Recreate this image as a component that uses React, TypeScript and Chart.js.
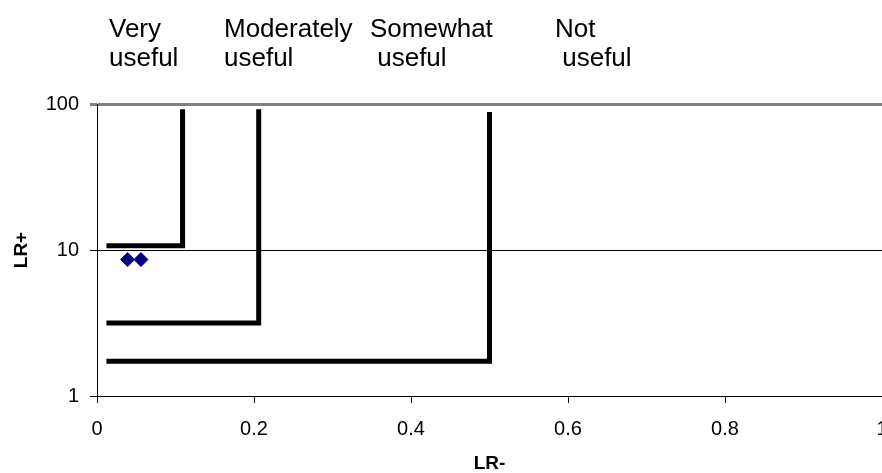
import React, { useEffect, useRef } from "react";
import { Chart, registerables } from "chart.js";

Chart.register(...registerables);

// Usefulness bands of a diagnostic test, LR- (x) against LR+ (y)
const bandLabels = ["Very\nuseful", "Moderately\nuseful", "Somewhat\n useful", "Not\n useful"];
const bandLabelLeft = [109, 224, 370, 555];

// Each band boundary: a horizontal run at its LR+ floor, then a vertical rise at its LR- ceiling
const boundaryNames = ["Very useful", "Moderately useful", "Somewhat useful"];
const boundaryStartLrMinus = [0.012, 0.012, 0.012];
const boundaryLrMinus = [0.109, 0.206, 0.5];
const boundaryLrPlus = [10.7, 3.16, 1.73];
const boundaryTopLrPlus = [92, 92, 88];

// Observed test results
const resultLrMinus = [0.039, 0.056];
const resultLrPlus = [8.6, 8.6];

const yTickValues = [1, 10, 100];

const CANVAS_W = 890;
const CANVAS_H = 473;

export default function App() {
  const canvasRef = useRef<HTMLCanvasElement | null>(null);

  useEffect(() => {
    const canvas = canvasRef.current;
    if (!canvas) return;

    const boundaryDatasets = boundaryNames.map((name, i) => ({
      label: name,
      data: [
        { x: boundaryStartLrMinus[i], y: boundaryLrPlus[i] },
        { x: boundaryLrMinus[i], y: boundaryLrPlus[i] },
        { x: boundaryLrMinus[i], y: boundaryTopLrPlus[i] },
      ],
      showLine: true,
      borderColor: "#000000",
      backgroundColor: "#000000",
      borderWidth: 5,
      borderJoinStyle: "miter" as const,
      borderCapStyle: "butt" as const,
      pointRadius: 0,
      pointHoverRadius: 0,
    }));

    const resultDataset = {
      label: "Results",
      data: resultLrMinus.map((x, i) => ({ x, y: resultLrPlus[i] })),
      showLine: false,
      pointStyle: "rectRot" as const,
      pointRadius: 7,
      pointHoverRadius: 7,
      backgroundColor: "#000080",
      borderColor: "#000080",
      borderWidth: 1,
    };

    const font = "'Liberation Sans', Arial, sans-serif";

    const chart = new Chart(canvas, {
      type: "scatter",
      data: { datasets: [...boundaryDatasets, resultDataset] },
      options: {
        animation: false,
        responsive: false,
        devicePixelRatio: 1,
        layout: { padding: { top: 104, right: 6, bottom: 0, left: 0 } },
        plugins: {
          legend: { display: false },
          tooltip: { enabled: false },
        },
        scales: {
          x: {
            type: "linear",
            min: 0,
            max: 1,
            afterFit: (scale: any) => {
              scale.height = 77;
              scale.paddingLeft = 0;
              scale.paddingRight = 0;
            },
            ticks: {
              stepSize: 0.2,
              color: "#000",
              padding: 14,
              font: { family: font, size: 20 },
              maxRotation: 0,
              callback: (v: any) => String(Math.round(Number(v) * 10) / 10),
            },
            grid: {
              drawOnChartArea: false,
              drawTicks: true,
              tickLength: 7,
              color: "#000",
            },
            border: { display: true, color: "#000", width: 1 },
            title: {
              display: true,
              text: "LR-",
              color: "#000",
              font: { family: font, size: 19, weight: "bold", lineHeight: 1 },
              padding: { top: 0, bottom: 0 },
            },
          },
          y: {
            type: "logarithmic",
            min: 1,
            max: 100,
            afterFit: (scale: any) => {
              scale.width = 97;
            },
            afterBuildTicks: (scale: any) => {
              scale.ticks = yTickValues.map((v) => ({ value: v }));
            },
            ticks: {
              color: "#000",
              padding: 11,
              font: { family: font, size: 20 },
              callback: (v: any) => String(v),
            },
            grid: {
              drawTicks: true,
              tickLength: 7,
              color: (ctx: any) => (ctx.tick && ctx.tick.value === 100 ? "#808080" : "#000"),
              lineWidth: (ctx: any) => (ctx.tick && ctx.tick.value === 100 ? 3 : 1),
            },
            border: { display: true, color: "#000", width: 1 },
            title: {
              display: true,
              text: "LR+",
              color: "#000",
              font: { family: font, size: 19, weight: "bold", lineHeight: 1.2 },
              padding: { top: 10, bottom: 0 },
            },
          },
        },
      },
    });

    return () => chart.destroy();
  }, []);

  return (
    <div
      style={{
        position: "fixed",
        left: 0,
        top: 0,
        width: 882,
        height: 473,
        overflow: "hidden",
        background: "#ffffff",
      }}
    >
      <div style={{ position: "absolute", left: 0, top: 0, width: CANVAS_W, height: CANVAS_H }}>
        <canvas ref={canvasRef} width={CANVAS_W} height={CANVAS_H} />
      </div>
      {bandLabels.map((text, i) => (
        <div
          key={text}
          style={{
            position: "absolute",
            left: bandLabelLeft[i],
            top: 14,
            whiteSpace: "pre",
            fontFamily: "'Liberation Sans', Arial, sans-serif",
            fontSize: 26,
            lineHeight: "29px",
            color: "#000",
          }}
        >
          {text}
        </div>
      ))}
    </div>
  );
}
